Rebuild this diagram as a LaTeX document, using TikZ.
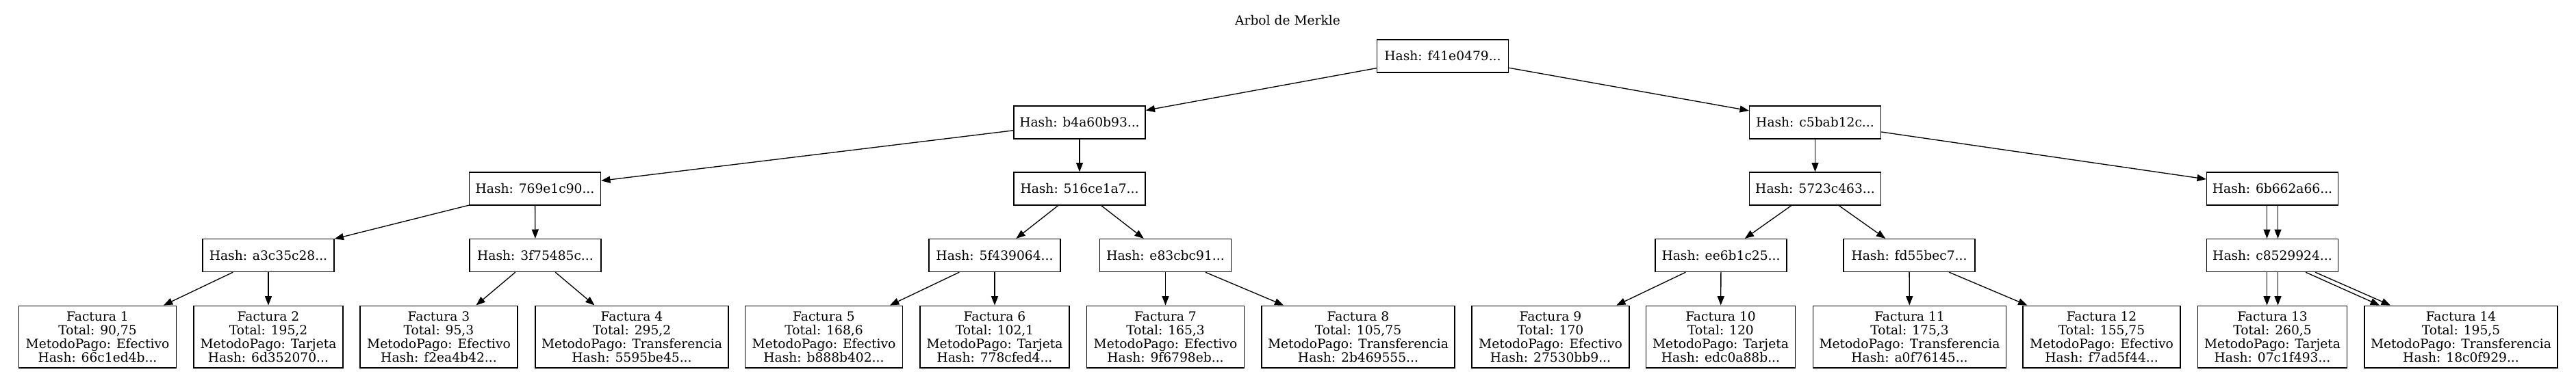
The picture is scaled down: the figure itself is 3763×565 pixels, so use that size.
\documentclass[tikz,border=0pt]{standalone}
\usepackage{fontspec}
\setmainfont{DejaVu Serif}
\usetikzlibrary{arrows.meta}
\begin{document}
\begin{tikzpicture}[x=0.75pt,y=-0.75pt,
  gvfont/.style={font=\fontsize{14pt}{15pt}\selectfont},
  hbox/.style={draw, line width=1pt, minimum width=144pt, minimum height=36pt, inner sep=0pt, gvfont},
  leaf/.style={draw, line width=1pt, minimum height=68pt, inner sep=0pt, align=center, gvfont},
  efe/.style={leaf, minimum width=172.5pt},
  tar/.style={leaf, minimum width=163.5pt},
  tra/.style={leaf, minimum width=211.5pt},
  conn/.style={line width=1pt, -{Triangle[length=10pt,width=7.5pt]}}
]
\useasboundingbox (0,0) rectangle (3763,565);

\node[gvfont, inner sep=0pt] (title) at (1881,29.5) {Arbol de Merkle};

% level 0
\node[hbox] (root) at (2107.5,82) {Hash: f41e0479...};
% level 1
\node[hbox] (n1a) at (1577,179) {Hash: b4a60b93...};
\node[hbox] (n1b) at (2651.5,179) {Hash: c5bab12c...};
% level 2
\node[hbox] (n2a) at (781.5,276) {Hash: 769e1c90...};
\node[hbox] (n2b) at (1577,276) {Hash: 516ce1a7...};
\node[hbox] (n2c) at (2651.5,276) {Hash: 5723c463...};
\node[hbox] (n2d) at (3319.5,276) {Hash: 6b662a66...};
% level 3
\node[hbox] (n3a) at (392,373.5) {Hash: a3c35c28...};
\node[hbox] (n3b) at (782,373.5) {Hash: 3f75485c...};
\node[hbox] (n3c) at (1453,373.5) {Hash: 5f439064...};
\node[hbox] (n3d) at (1702.5,373.5) {Hash: e83cbc91...};
\node[hbox] (n3e) at (2514,373.5) {Hash: ee6b1c25...};
\node[hbox] (n3f) at (2789,373.5) {Hash: fd55bec7...};
\node[hbox] (n3g) at (3319.5,373.5) {Hash: c8529924...};
% leaves
\node[efe] (f1) at (142.5,492.5) {Factura 1\\Total: 90,75\\MetodoPago: Efectivo\\Hash: 66c1ed4b...};
\node[tar] (f2) at (392,492.5) {Factura 2\\Total: 195,2\\MetodoPago: Tarjeta\\Hash: 6d352070...};
\node[efe] (f3) at (641,492.5) {Factura 3\\Total: 95,3\\MetodoPago: Efectivo\\Hash: f2ea4b42...};
\node[tra] (f4) at (923,492.5) {Factura 4\\Total: 295,2\\MetodoPago: Transferencia\\Hash: 5595be45...};
\node[efe] (f5) at (1203.5,492.5) {Factura 5\\Total: 168,6\\MetodoPago: Efectivo\\Hash: b888b402...};
\node[tar] (f6) at (1453,492.5) {Factura 6\\Total: 102,1\\MetodoPago: Tarjeta\\Hash: 778cfed4...};
\node[efe] (f7) at (1702.5,492.5) {Factura 7\\Total: 165,3\\MetodoPago: Efectivo\\Hash: 9f6798eb...};
\node[tra] (f8) at (1984,492.5) {Factura 8\\Total: 105,75\\MetodoPago: Transferencia\\Hash: 2b469555...};
\node[efe] (f9) at (2265,492.5) {Factura 9\\Total: 170\\MetodoPago: Efectivo\\Hash: 27530bb9...};
\node[tar] (f10) at (2513.5,492.5) {Factura 10\\Total: 120\\MetodoPago: Tarjeta\\Hash: edc0a88b...};
\node[tra] (f11) at (2789.5,492.5) {Factura 11\\Total: 175,3\\MetodoPago: Transferencia\\Hash: a0f76145...};
\node[efe] (f12) at (3070,492.5) {Factura 12\\Total: 155,75\\MetodoPago: Efectivo\\Hash: f7ad5f44...};
\node[tar] (f13) at (3319.5,492.5) {Factura 13\\Total: 260,5\\MetodoPago: Tarjeta\\Hash: 07c1f493...};
\node[tra] (f14) at (3595,492.5) {Factura 14\\Total: 195,5\\MetodoPago: Transferencia\\Hash: 18c0f929...};

% edges
\draw[conn] (root) -- (n1a);
\draw[conn] (root) -- (n1b);
\draw[conn] (n1a) -- (n2a);
\draw[conn] (n1a) -- (n2b);
\draw[conn] (n1b) -- (n2c);
\draw[conn] (n1b) -- (n2d);
\draw[conn] (n2a) -- (n3a);
\draw[conn] (n2a) -- (n3b);
\draw[conn] (n2b) -- (n3c);
\draw[conn] (n2b) -- (n3d);
\draw[conn] (n2c) -- (n3e);
\draw[conn] (n2c) -- (n3f);
\draw[conn] ([xshift=-6pt]n2d.south) -- ([xshift=-6pt]n3g.north);
\draw[conn] ([xshift=6pt]n2d.south) -- ([xshift=6pt]n3g.north);
\draw[conn] (n3a) -- (f1);
\draw[conn] (n3a) -- (f2);
\draw[conn] (n3b) -- (f3);
\draw[conn] (n3b) -- (f4);
\draw[conn] (n3c) -- (f5);
\draw[conn] (n3c) -- (f6);
\draw[conn] (n3d) -- (f7);
\draw[conn] (n3d) -- (f8);
\draw[conn] (n3e) -- (f9);
\draw[conn] (n3e) -- (f10);
\draw[conn] (n3f) -- (f11);
\draw[conn] (n3f) -- (f12);
\draw[conn] ([xshift=-6pt]n3g.south) -- ([xshift=-6pt]f13.north);
\draw[conn] ([xshift=6pt]n3g.south) -- ([xshift=6pt]f13.north);
\draw[conn] ([xshift=36.4pt]n3g.south) -- ([xshift=-89.25pt]f14.north);
\draw[conn] ([xshift=46.9pt]n3g.south) -- ([xshift=-77.25pt]f14.north);
\end{tikzpicture}
\end{document}
